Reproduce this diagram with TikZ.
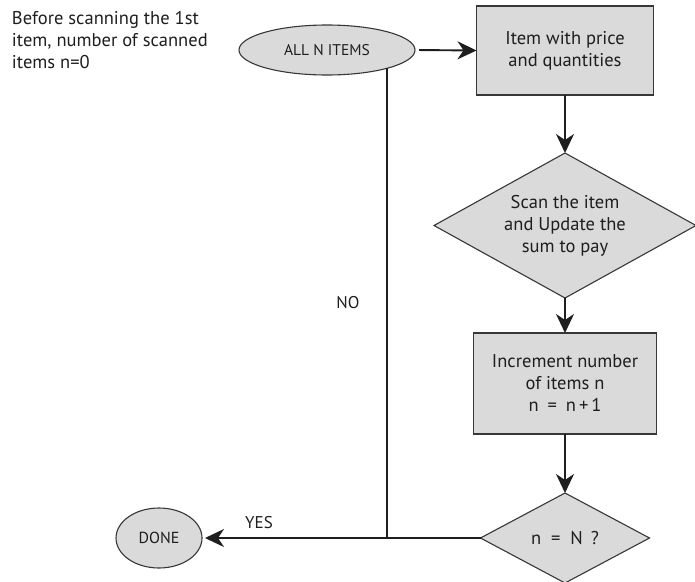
\documentclass[tikz,border=0pt]{standalone}
\usepackage{fontspec}
\setmainfont{PT Sans}
\usetikzlibrary{shapes.geometric,arrows.meta}
\definecolor{boxfill}{RGB}{218,218,218}
\definecolor{boxline}{RGB}{55,55,55}
\definecolor{ink}{RGB}{30,30,30}
\begin{document}
\begin{tikzpicture}[x=1pt,y=-1pt,
  every node/.style={font=\fontsize{18.5}{22}\selectfont, text=ink, inner sep=0pt, outer sep=0pt},
  boxnode/.style={draw=boxline, line width=1.1pt, fill=boxfill, align=center},
  rectbox/.style={boxnode, rectangle},
  decision/.style={boxnode, diamond},
  oval/.style={boxnode, ellipse},
  labeltext/.style={font=\fontsize{17}{19}\selectfont},
  flow/.style={draw=ink, line width=1.9pt, -{Stealth[length=19pt,width=18pt,inset=6pt]}},
  plainline/.style={draw=ink, line width=1.9pt}
]
\useasboundingbox (0,0) rectangle (695,581);
\node[oval, font=\fontsize{15.5}{17}\selectfont, minimum width=176, minimum height=50] (all) at (327,50) {ALL N ITEMS};
\node[rectbox, minimum width=177, minimum height=89] (item) at (565,50.5) {Item with price\\and quantities};
\node[decision, aspect=1.83, minimum width=262, minimum height=145] (scan) at (565,225.5) {Scan the item\\and Update the\\sum to pay};
\node[rectbox, minimum width=183, minimum height=101] (inc) at (565,383.5) {Increment number\\of items n\\n\hspace{9pt}=\hspace{9pt}n\hspace{3pt}+\hspace{3pt}1};
\node[decision, aspect=1.88, minimum width=169, minimum height=90] (check) at (565,538) {n\hspace{10pt}=\hspace{10pt}N\hspace{8pt}?};
\node[oval, font=\fontsize{16}{18}\selectfont, minimum width=86, minimum height=60] (done) at (159,538) {DONE};
\node[anchor=north west, align=left] (note) at (12,11) {Before scanning the 1st\\item, number of scanned\\items n=0};
\node[labeltext] (no) at (348,303) {NO};
\node[labeltext] (yes) at (259,523) {YES};
\draw[flow, shorten <=4pt] (all.east) -- (item.west);
\draw[flow] (item.south) -- (scan.north);
\draw[flow] (scan.south) -- (inc.north);
\draw[flow] (inc.south) -- (check.north);
\draw[flow, shorten >=3pt] (check.west) -- (done.east);
\draw[plainline] (all.-17) -- (all.-17 |- check.west);
\end{tikzpicture}
\end{document}
